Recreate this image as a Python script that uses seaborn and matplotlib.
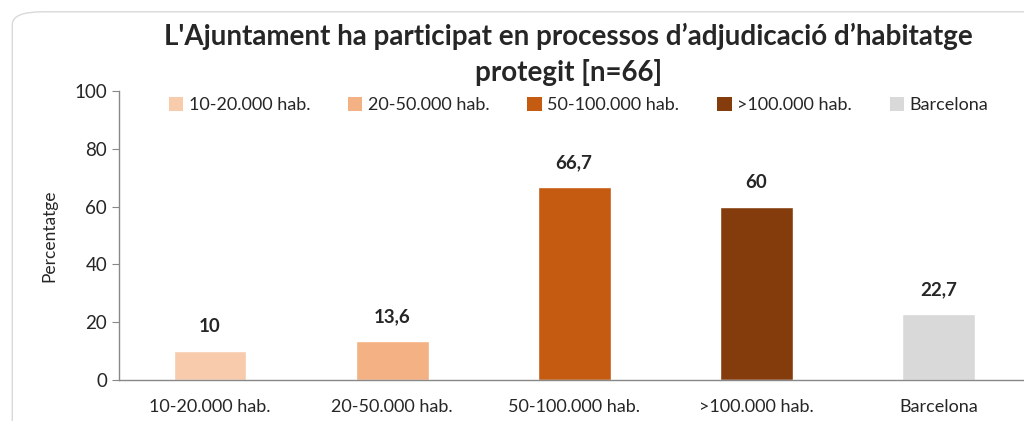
import matplotlib.pyplot as plt
import seaborn as sns
import pandas as pd
from matplotlib.patches import FancyBboxPatch, Patch

categories = ['10-20.000 hab.', '20-50.000 hab.', '50-100.000 hab.', '>100.000 hab.', 'Barcelona']
values = [10, 13.6, 66.7, 60, 22.7]
labels = ['10', '13,6', '66,7', '60', '22,7']
colors = ['#F8CBAD', '#F4B183', '#C55A11', '#843C0C', '#D9D9D9']

sns.set_style('white')
plt.rcParams['font.family'] = ['Lato', 'DejaVu Sans']

df = pd.DataFrame({'cat': categories, 'val': values})

fig = plt.figure(figsize=(10.24, 4.21), dpi=100)
ax = fig.add_axes([0.1162, 0.0974, 0.889, 0.6864])

# rounded chart border
fig.patches.append(FancyBboxPatch((0.012, -0.05), 1.05, 1.022, boxstyle='round,pad=0,rounding_size=0.03',
                                  transform=fig.transFigure, fill=False, edgecolor='#D9D9D9', linewidth=1))

sns.barplot(data=df, x='cat', y='val', hue='cat', palette=colors, saturation=1, width=0.4,
            legend=False, ax=ax)

for i, (v, lab) in enumerate(zip(values, labels)):
    ax.text(i, v + 5.5, lab, ha='center', va='bottom', fontsize=13.5, fontweight='bold')

ax.set_ylim(0, 100)
ax.set_xlim(-0.5, 4.5)
ax.set_yticks([0, 20, 40, 60, 80, 100])
ax.tick_params(axis='y', labelsize=13.5, length=5, color='#888888', left=True, direction='out')
ax.tick_params(axis='x', labelsize=13, length=0, pad=14)
ax.set_xlabel('')
ax.set_ylabel('Percentatge', fontsize=12.5, labelpad=12)

for s in ['top', 'right']:
    ax.spines[s].set_visible(False)
for s in ['left', 'bottom']:
    ax.spines[s].set_color('#888888')
    ax.spines[s].set_linewidth(1)

fig.suptitle("L'Ajuntament ha participat en processos d\u2019adjudicació d\u2019habitatge\nprotegit [n=66]",
             x=0.555, y=0.945, fontsize=20, fontweight='bold', linespacing=1.4)

handles = [Patch(facecolor=c, edgecolor='none') for c in colors]
fig.legend(handles, categories, loc='center', bbox_to_anchor=(0.565, 0.75), ncol=5, frameon=False,
           fontsize=13, handlelength=0.8, handleheight=0.8, handletextpad=0.3, columnspacing=2.1)

fig.savefig('out.png', dpi=100)
